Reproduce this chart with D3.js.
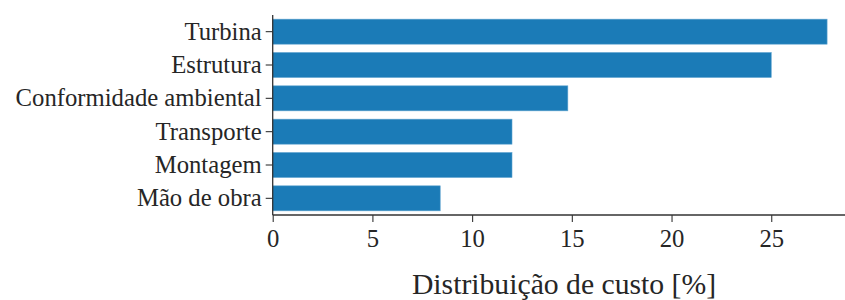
<!DOCTYPE html>
<html>
<head>
<meta charset="utf-8">
<script src="https://cdn.jsdelivr.net/npm/d3@7"></script>
<style>
  html, body { margin: 0; padding: 0; background: #ffffff; }
  svg text { font-family: "Liberation Serif", "Times New Roman", serif; fill: #262626; }
</style>
</head>
<body>
<svg id="chart"></svg>
<script>
// Chart data
const categories = ["Turbina", "Estrutura", "Conformidade ambiental", "Transporte", "Montagem", "Mão de obra"];
const costShare = [27.8, 25.0, 14.8, 12.0, 12.0, 8.4];
const xTicks = [0, 5, 10, 15, 20, 25];
const xLabel = "Distribuição de custo [%]";

// SVG dimensions
let width = 845, height = 300;
let plotLeft = 272.7, plotRight = 854.8, plotTop = 15, plotBottom = 215;

let svg = d3.select('#chart')
    .attr('width', width)
    .attr('height', height);

// Scales
let xScale = d3.scaleLinear()
    .domain([0, 29.19])
    .range([plotLeft, plotRight]);

let yScale = d3.scaleBand()
    .domain(categories)
    .range([plotTop, plotBottom])
    .paddingInner(0.25)
    .paddingOuter(0.125);

// Bars
svg.selectAll('rect.bar')
    .data(categories)
    .enter()
    .append('rect')
    .attr('class', 'bar')
    .attr('x', xScale(0))
    .attr('y', (d) => yScale(d))
    .attr('width', (d, i) => xScale(costShare[i]) - xScale(0))
    .attr('height', yScale.bandwidth())
    .attr('fill', '#1b7bb7')
    .attr('stroke', '#5fa3cf')
    .attr('stroke-width', 0.6);

// x axis
let xAxis = d3.axisBottom(xScale).tickValues(xTicks).tickSize(7).tickPadding(7).tickFormat(d3.format('d'));
let gx = svg.append('g')
    .attr('transform', `translate(0, ${plotBottom})`)
    .call(xAxis);
gx.select('.domain').attr('d', `M${plotLeft},0H${width + 10}`);

// y axis
let yAxis = d3.axisLeft(yScale).tickSize(7).tickPadding(4);
let gy = svg.append('g')
    .attr('transform', `translate(${plotLeft}, 0)`)
    .call(yAxis);
gy.select('.domain').attr('d', `M0,${plotTop}V${plotBottom}`);

// axis styles
svg.selectAll('.domain').attr('stroke', '#333333').attr('stroke-width', 1.3);
svg.selectAll('.tick line').attr('stroke', '#333333').attr('stroke-width', 1.1);
svg.selectAll('.tick text').attr('font-size', 24.7).attr('fill', '#262626')
    .style('font-family', '"Liberation Serif", serif');

// x axis title
svg.append('text')
    .attr('x', (412 + 716) / 2)
    .attr('y', 294)
    .attr('text-anchor', 'middle')
    .attr('font-size', 29.7)
    .text(xLabel);
</script>
</body>
</html>
